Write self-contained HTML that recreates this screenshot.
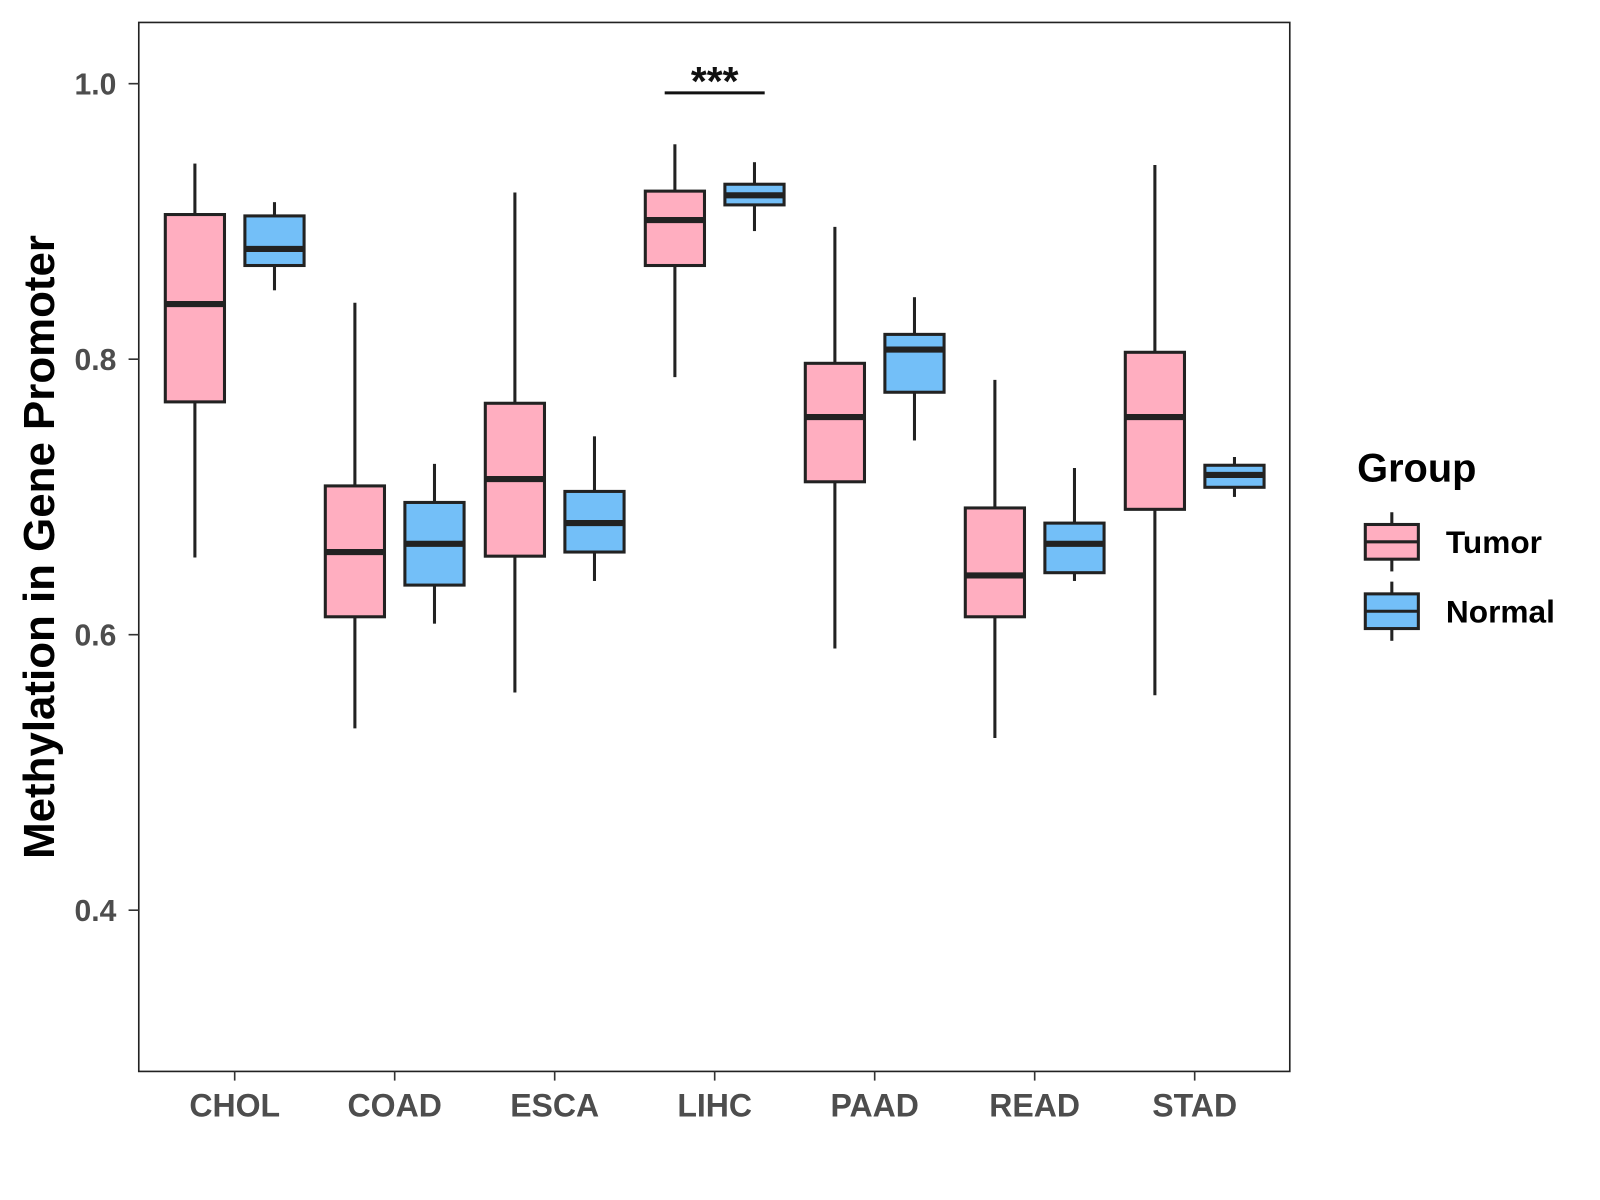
<!DOCTYPE html>
<html><head><meta charset="utf-8"><style>
html,body{margin:0;padding:0;background:#fff;}
svg{display:block;font-family:"Liberation Sans",Arial,sans-serif;}
</style></head><body>
<svg width="1600" height="1200"><g id="chart" transform="scale(1.0204)"></g></svg>
<script>
const categories=["CHOL","COAD","ESCA","LIHC","PAAD","READ","STAD"];
const tumorMin=[0.656,0.532,0.558,0.787,0.590,0.525,0.556];
const tumorQ1=[0.769,0.613,0.657,0.868,0.711,0.613,0.691];
const tumorMed=[0.840,0.660,0.713,0.901,0.758,0.643,0.758];
const tumorQ3=[0.905,0.708,0.768,0.922,0.797,0.692,0.805];
const tumorMax=[0.942,0.841,0.921,0.956,0.896,0.785,0.941];
const normalMin=[0.850,0.608,0.639,0.893,0.741,0.639,0.700];
const normalQ1=[0.868,0.636,0.660,0.912,0.776,0.645,0.707];
const normalMed=[0.880,0.666,0.681,0.919,0.807,0.666,0.716];
const normalQ3=[0.904,0.696,0.704,0.927,0.818,0.681,0.723];
const normalMax=[0.914,0.724,0.744,0.943,0.845,0.721,0.729];
const yTicks=[0.4,0.6,0.8,1.0];
const yTickLabels=["0.4","0.6","0.8","1.0"];

const NS="http://www.w3.org/2000/svg";
const svg=document.getElementById("chart");
const PL=136,PR=1264,PT=22,PB=1050;
const y=v=>82+(1.0-v)*1350;
const x=i=>230+i*156.8;
function mk(tag,attrs,parent){const e=document.createElementNS(NS,tag);for(const k in attrs)e.setAttribute(k,attrs[k]);(parent||svg).appendChild(e);return e;}

const panel=mk("rect",{x:PL,y:PT,width:PR-PL,height:PB-PT,fill:"#fff",stroke:"#222",'stroke-width':1.6});



yTicks.forEach((t,i)=>{
  const tk=mk("line",{x1:126,x2:PL,y1:y(t),y2:y(t),stroke:"#333",'stroke-width':1.6});
  
  
  const tl=mk("text",{x:114,y:y(t)+10.5,'text-anchor':'end','font-size':29.5,'font-weight':'bold',fill:"#4d4d4d"});
  tl.textContent=yTickLabels[i];
  
  
});
categories.forEach((c,i)=>{
  const tk=mk("line",{x1:x(i),x2:x(i),y1:PB,y2:PB+9,stroke:"#333",'stroke-width':1.6});
  
  
  const tl=mk("text",{x:x(i),y:1094,'text-anchor':'middle','font-size':31.4,'font-weight':'bold',fill:"#4d4d4d"});
  tl.textContent=c;
  
  
});

function box(cx,mn,q1,md,q3,mx,fill,name){
  const g=mk("g",{});
  
  
  const w=29;
  mk("line",{x1:cx,x2:cx,y1:y(mx),y2:y(q3),stroke:"#222",'stroke-width':3},g);
  mk("line",{x1:cx,x2:cx,y1:y(q1),y2:y(mn),stroke:"#222",'stroke-width':3},g);
  mk("rect",{x:cx-w,y:y(q3),width:2*w,height:y(q1)-y(q3),fill:fill,stroke:"#222",'stroke-width':3},g);
  mk("line",{x1:cx-w,x2:cx+w,y1:y(md),y2:y(md),stroke:"#222",'stroke-width':6},g);
}
categories.forEach((c,i)=>{
  box(x(i)-39,tumorMin[i],tumorQ1[i],tumorMed[i],tumorQ3[i],tumorMax[i],"#FFAEC0","box-tumor-"+c.toLowerCase());
  box(x(i)+39,normalMin[i],normalQ1[i],normalMed[i],normalQ3[i],normalMax[i],"#73BFF8","box-normal-"+c.toLowerCase());
});

const sig=mk("line",{x1:x(3)-49,x2:x(3)+49,y1:91,y2:91,stroke:"#111",'stroke-width':3});


const st=mk("text",{x:x(3),y:93,'text-anchor':'middle','font-size':40,'font-weight':'bold',fill:"#111"});
st.textContent="***";



const yt=mk("text",{x:0,y:0,'text-anchor':'middle','font-size':43,'font-weight':'bold',fill:"#000",transform:"translate(53,536) rotate(-90)"});
yt.textContent="Methylation in Gene Promoter";



const lt=mk("text",{x:1330,y:472,'font-size':39,'font-weight':'bold',fill:"#000"});
lt.textContent="Group";


[["Tumor","#FFAEC0",531],["Normal","#73BFF8",599]].forEach(([lab,col,cy])=>{
  const g=mk("g",{});
  
  
  mk("line",{x1:1364,x2:1364,y1:cy-29,y2:cy+29,stroke:"#222",'stroke-width':3},g);
  mk("rect",{x:1338,y:cy-17,width:52,height:34,fill:col,stroke:"#222",'stroke-width':3},g);
  mk("line",{x1:1338,x2:1390,y1:cy,y2:cy,stroke:"#222",'stroke-width':3},g);
  const t=mk("text",{x:1417,y:cy+11,'font-size':31,'font-weight':'bold',fill:"#000"},g);
  t.textContent=lab;
});
</script>
</body></html>
